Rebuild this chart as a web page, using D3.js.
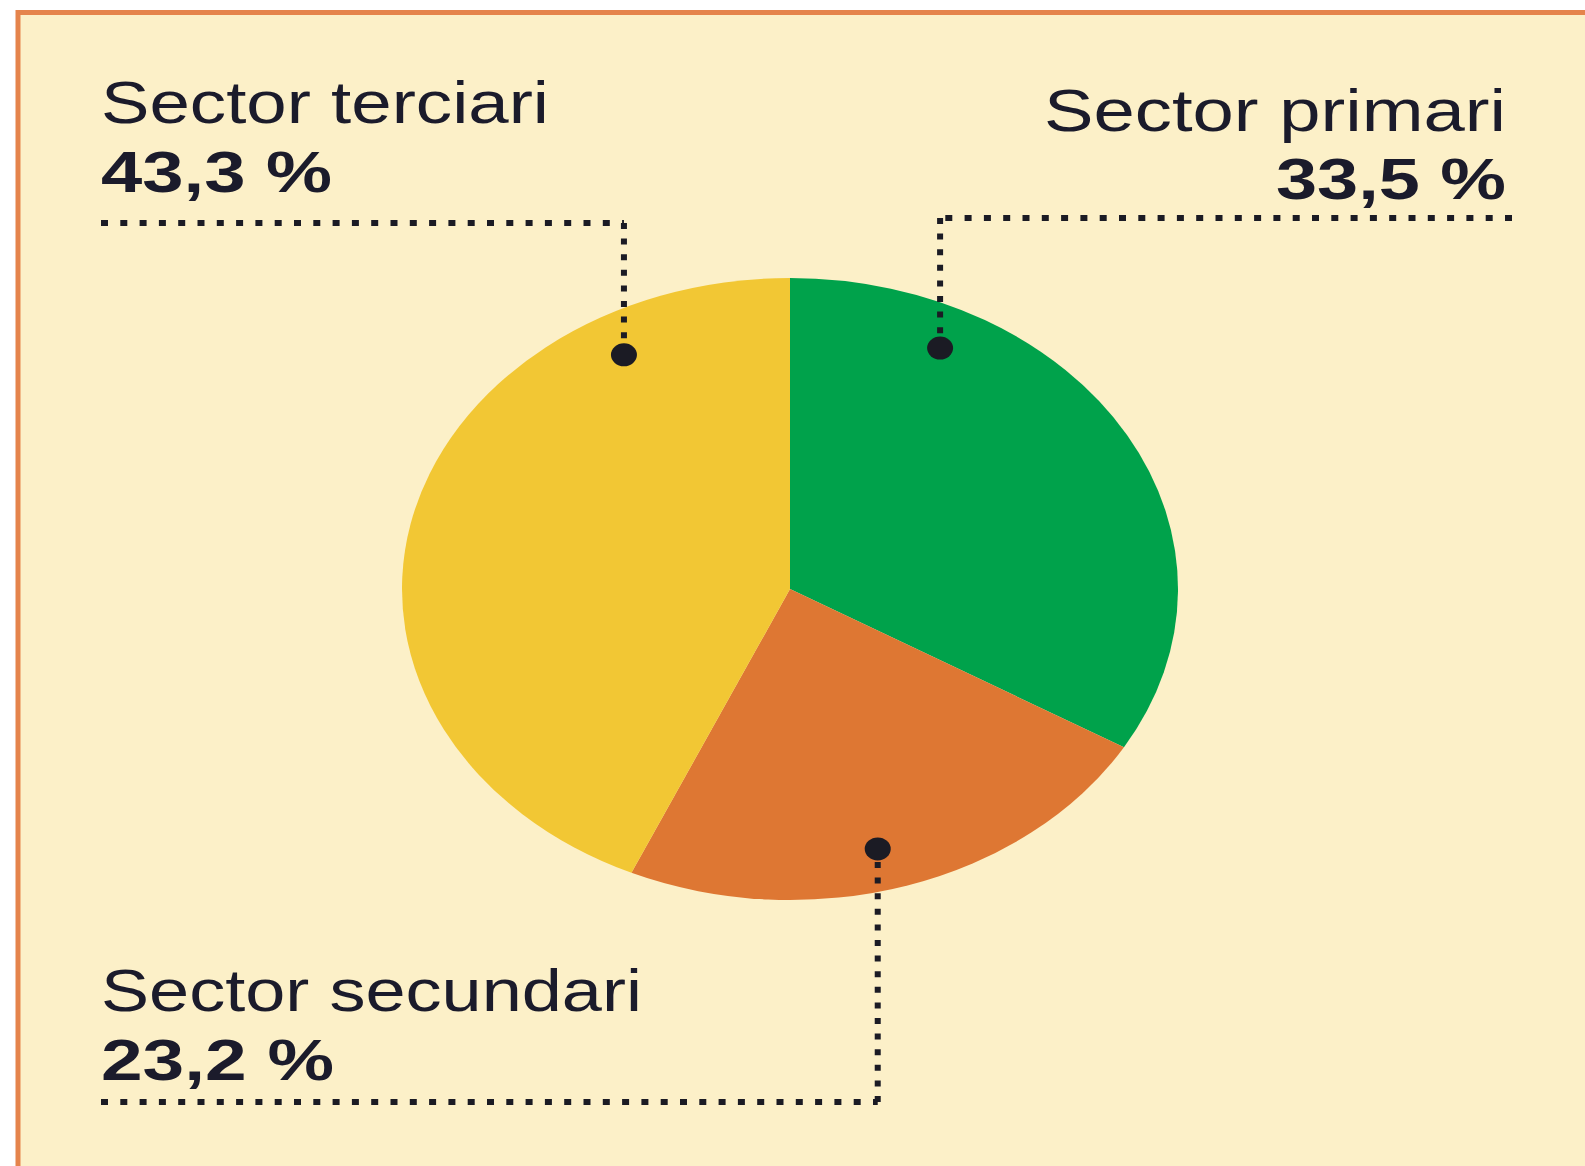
<!DOCTYPE html>
<html>
<head>
<meta charset="utf-8">
<script src="https://cdn.jsdelivr.net/npm/d3@7"></script>
<style>
  body { margin: 0; background: #fff; }
  text { font-family: "Liberation Sans", sans-serif; fill: #1b1b2b; }
</style>
</head>
<body>
<svg width="1585" height="1166"></svg>
<script>
// data
const sectors = ["Sector primari", "Sector secundari", "Sector terciari"];
const shares = [33.5, 23.2, 43.3];
const valueLabels = ["33,5 %", "23,2 %", "43,3 %"];
const colors = ["#00a24b", "#de7733", "#f2c734"];

// layout of the labels / leader lines (one entry per sector)
const labelLayout = [
  { frac: 0.22, lineY: 218, farX: 1512, textX: 1506, align: "end",   nameY: 131,  valueY: 199,  nameW: 462, valueW: 230 },
  { frac: 0.53, lineY: 1102, farX: 101, textX: 101,  align: "start", nameY: 1011, valueY: 1080, nameW: 541, valueW: 233 },
  { frac: 0.81, lineY: 223, farX: 101,  textX: 101,  align: "start", nameY: 123,  valueY: 192,  nameW: 448, valueW: 231 }
];

const W = 1585, H = 1166;
const cx = 790, cy = 589;
const rx = 388, ry = 311;       // the pie is drawn as an ellipse (stretched picture)
const sx = rx / ry;

let svg = d3.select("svg");

// panel background with orange frame (bottom edge falls just off the picture)
svg.append("rect")
  .attr("x", 18).attr("y", 12.5)
  .attr("width", W + 20).attr("height", H - 9)
  .attr("fill", "#fcf0c8")
  .attr("stroke", "#e5844c")
  .attr("stroke-width", 5);

let pie = d3.pie().sort(null).value(d => d);
let arcs = pie(shares);
let arc = d3.arc().innerRadius(0).outerRadius(ry);

let g = svg.append("g")
  .attr("transform", "translate(" + cx + "," + cy + ") scale(" + sx + ",1)");

g.selectAll("path")
  .data(arcs)
  .enter()
  .append("path")
  .attr("d", arc)
  .attr("fill", (d, i) => colors[i]);

// anchor point on a slice, in page coordinates
function anchor(d, frac) {
  let a = d.startAngle + (d.endAngle - d.startAngle) * frac;
  let r = ry * 0.866;
  return [cx + Math.sin(a) * r * sx, cy - Math.cos(a) * r];
}

let leaders = svg.append("g");
arcs.forEach(function(d, i) {
  let L = labelLayout[i];
  let p = anchor(d, L.frac);

  // horizontal dotted part
  leaders.append("line")
    .attr("x1", L.farX).attr("x2", p[0])
    .attr("y1", L.lineY).attr("y2", L.lineY)
    .attr("stroke", "#1b1b24")
    .attr("stroke-width", 6)
    .attr("stroke-dasharray", "7 12.3");
  // vertical dotted part
  leaders.append("line")
    .attr("x1", p[0]).attr("x2", p[0])
    .attr("y1", L.lineY).attr("y2", p[1])
    .attr("stroke", "#1b1b24")
    .attr("stroke-width", 6)
    .attr("stroke-dasharray", "6 9.6");
  leaders.append("ellipse")
    .attr("cx", p[0]).attr("cy", p[1])
    .attr("rx", 13).attr("ry", 11.5)
    .attr("fill", "#1b1b24");

  let nameX = L.align == "end" ? L.textX - L.nameW : L.textX;
  let valX = L.align == "end" ? L.textX - L.valueW : L.textX;

  svg.append("text")
    .attr("x", nameX).attr("y", L.nameY)
    .attr("font-size", 59)
    .attr("textLength", L.nameW)
    .attr("lengthAdjust", "spacingAndGlyphs")
    .text(sectors[i]);

  svg.append("text")
    .attr("x", valX).attr("y", L.valueY)
    .attr("font-size", 57)
    .attr("font-weight", "bold")
    .attr("textLength", L.valueW)
    .attr("lengthAdjust", "spacingAndGlyphs")
    .text(valueLabels[i]);
});
</script>
</body>
</html>
